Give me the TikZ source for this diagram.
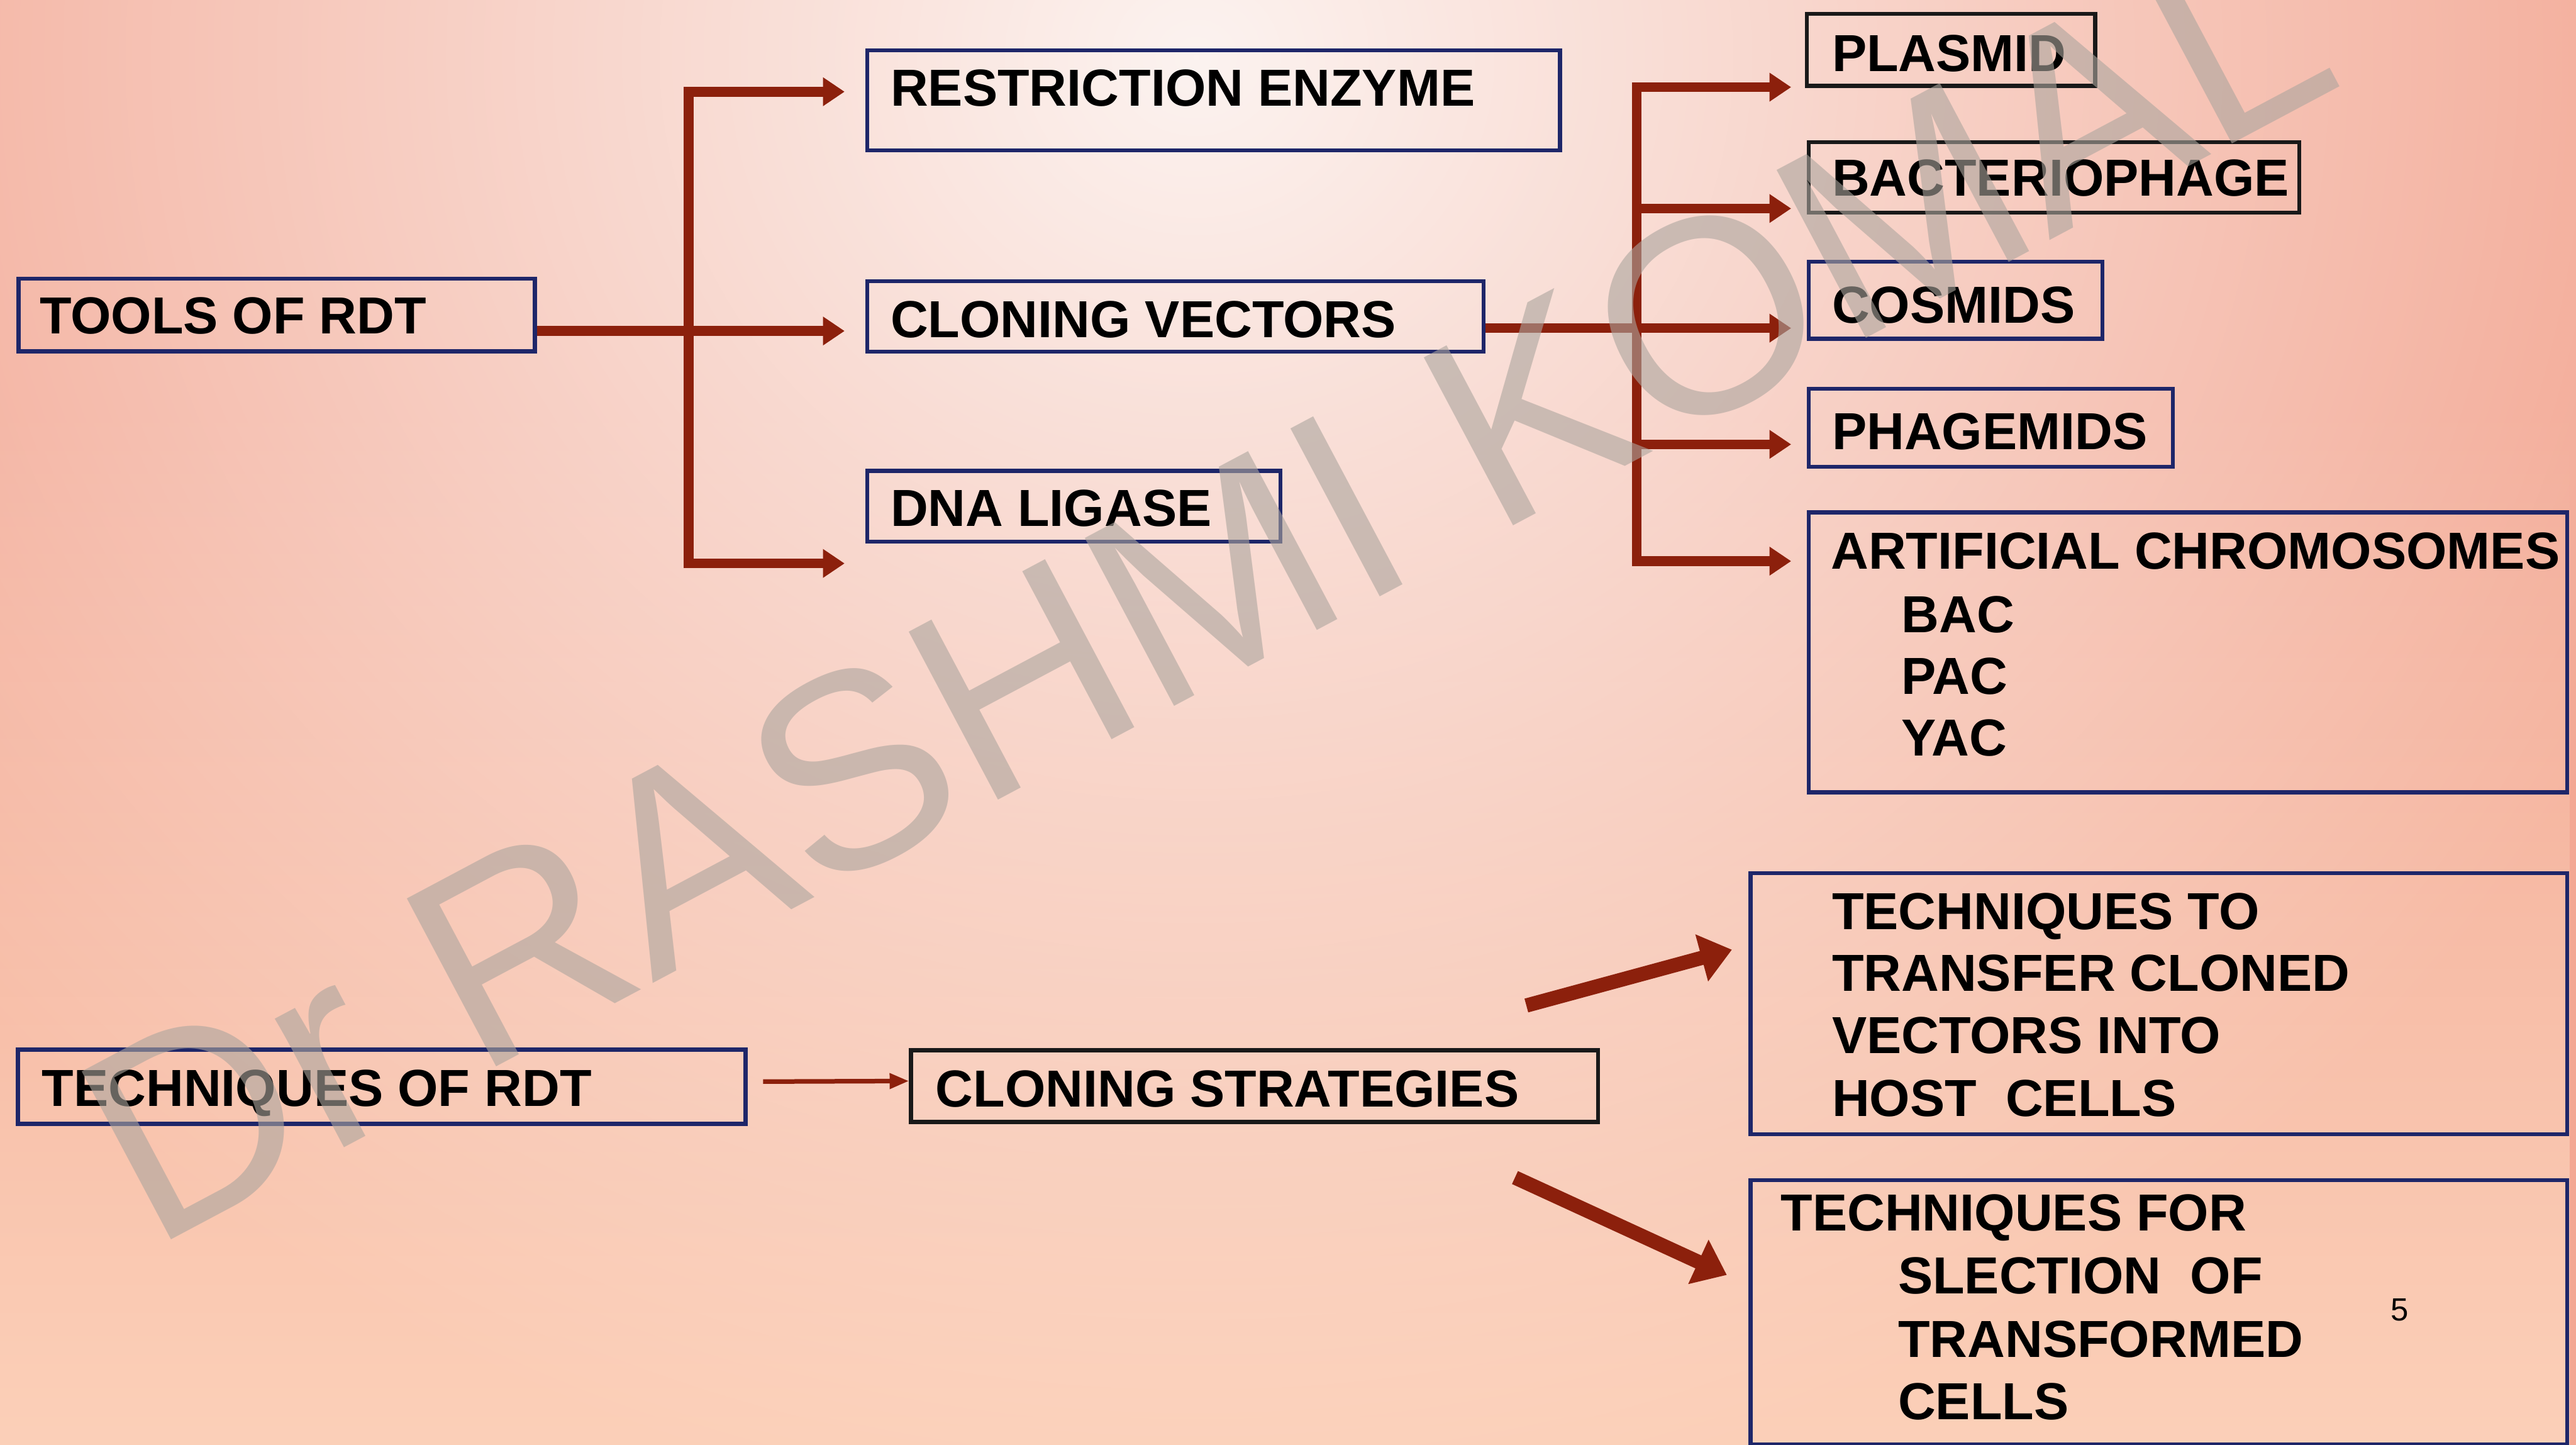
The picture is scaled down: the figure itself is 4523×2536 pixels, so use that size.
\documentclass[tikz,border=0pt]{standalone}
\usepackage{fontspec}
\setmainfont{Liberation Sans}
\usetikzlibrary{arrows.meta,fadings,calc}
\definecolor{salmon}{RGB}{243,168,148}
\definecolor{peach}{RGB}{253,214,190}
\definecolor{hilite}{RGB}{252,243,240}
\definecolor{navy}{RGB}{30,38,105}
\definecolor{arrowred}{RGB}{140,32,12}
\definecolor{wmgray}{RGB}{172,165,158}
\tikzfading[name=fadedown, top color=transparent!100, bottom color=transparent!0]
\tikzfading[name=radfade, inner color=transparent!0, outer color=transparent!100]
\begin{document}
\begin{tikzpicture}[x=0.01cm,y=-0.01cm,
  box/.style={draw=navy, line width=0.07cm, rectangle, inner sep=0pt, anchor=north west},
  blackbox/.style={box, draw=black!90},
  lbl/.style={anchor=base west, inner sep=0pt, font=\bfseries\fontsize{26pt}{31pt}\selectfont, text=black},
  conn/.style={draw=arrowred, line width=0.17cm, arrows={-Triangle[length=0.38cm,width=0.48cm]}},
  bothconn/.style={draw=arrowred, line width=0.17cm, line join=miter, arrows={Triangle[length=0.38cm,width=0.48cm]-Triangle[length=0.38cm,width=0.48cm]}},
  thinconn/.style={draw=arrowred, line width=0.08cm, arrows={-Triangle[length=0.34cm,width=0.26cm]}},
  fatconn/.style={draw=arrowred, line width=0.25cm, arrows={-Triangle[length=0.55cm,width=0.82cm]}},
  wmark/.style={anchor=base west, inner sep=0pt, rotate=28, text=wmgray, text opacity=0.6, font=\fontsize{138pt}{140pt}\selectfont}
]
\useasboundingbox (0,0) rectangle (4523,2536);
\clip (0,0) rectangle (4523,2536);
% background
\fill[salmon] (0,0) rectangle (4523,2536);
\fill[peach, path fading=fadedown] (0,700) rectangle (4523,2800);
\fill[hilite, path fading=radfade] (2100,100) ellipse [x radius=2800, y radius=2600];

% boxes
\node[box, minimum width=9.06cm, minimum height=1.27cm] (tools) at (29,486) {};
\node[box, minimum width=12.16cm, minimum height=1.75cm] (re) at (1519,85) {};
\node[box, minimum width=10.82cm, minimum height=1.24cm] (cv) at (1519,490) {};
\node[box, minimum width=7.25cm, minimum height=1.24cm] (dna) at (1519,823) {};
\node[blackbox, minimum width=5.06cm, minimum height=1.26cm] (plasmid) at (3169,21) {};
\node[blackbox, minimum width=8.61cm, minimum height=1.24cm] (bact) at (3172,246) {};
\node[box, minimum width=5.16cm, minimum height=1.35cm] (cos) at (3172,456) {};
\node[box, minimum width=6.39cm, minimum height=1.37cm] (phag) at (3172,679) {};
\node[box, minimum width=13.31cm, minimum height=4.91cm] (art) at (3172,896) {};
\node[box, minimum width=12.77cm, minimum height=1.30cm] (techrdt) at (28,1839) {};
\node[blackbox, minimum width=12.06cm, minimum height=1.26cm] (cs) at (1596,1840) {};
\node[box, minimum width=14.33cm, minimum height=4.58cm] (tto) at (3070,1529) {};
\node[box, minimum width=14.33cm, minimum height=4.64cm] (tfor) at (3070,2068) {};

% labels
\node[lbl] (tools-t) at (69,586) {TOOLS OF RDT};
\node[lbl] (re-t) at (1563,186) {RESTRICTION ENZYME};
\node[lbl] (cv-t) at (1563,592) {CLONING VECTORS};
\node[lbl] (dna-t) at (1563,924) {DNA LIGASE};
\node[lbl] (plasmid-t) at (3216,125) {PLASMID};
\node[lbl] (bact-t) at (3216,344) {BACTERIOPHAGE};
\node[lbl] (cos-t) at (3216,567) {COSMIDS};
\node[lbl] (phag-t) at (3216,789) {PHAGEMIDS};
\node[lbl] (art-t1) at (3214,999) {ARTIFICIAL CHROMOSOMES};
\node[lbl] (art-t2) at (3338,1110) {BAC};
\node[lbl] (art-t3) at (3338,1219) {PAC};
\node[lbl] (art-t4) at (3338,1327) {YAC};
\node[lbl] (techrdt-t) at (73,1942) {TECHNIQUES OF RDT};
\node[lbl] (cs-t) at (1642,1943) {CLONING STRATEGIES};
\node[lbl] (tto-t1) at (3216,1631) {TECHNIQUES TO};
\node[lbl] (tto-t2) at (3216,1740) {TRANSFER CLONED};
\node[lbl] (tto-t3) at (3216,1849) {VECTORS INTO};
\node[lbl] (tto-t4) at (3216,1959) {HOST\ \ CELLS};
\node[lbl] (tfor-t1) at (3126,2160) {TECHNIQUES FOR};
\node[lbl] (tfor-t2) at (3332,2271) {SLECTION\ \ OF};
\node[lbl] (tfor-t3) at (3332,2382) {TRANSFORMED};
\node[lbl] (tfor-t4) at (3332,2492) {CELLS};
\node[anchor=base west, inner sep=0pt, font=\fontsize{16pt}{18pt}\selectfont] (pagenum) at (4197,2318) {5};

% connectors: tools bracket
\coordinate (ja) at (1209,161);
\coordinate (jb) at (1209,989);
\coordinate (ta) at (1483,161);
\coordinate (tb) at (1483,581);
\coordinate (tc) at (1483,989);
\draw[bothconn] (ta) -- (ja) -- (jb) -- (tc);
\draw[conn] (tools.east |- tb) -- (tb);

% connectors: vectors bracket
\coordinate (ka) at (2874,153);
\coordinate (kb) at (2874,985);
\coordinate (pa) at (3145,153);
\coordinate (pb) at (3145,366);
\coordinate (pc) at (3145,576);
\coordinate (pd) at (3145,780);
\coordinate (pe) at (3145,985);
\draw[bothconn] (pa) -- (ka) -- (kb) -- (pe);
\draw[conn] (kb |- pb) -- (pb);
\draw[conn] (kb |- pd) -- (pd);
\draw[conn] (cv.east |- pc) -- (pc);

% techniques
\draw[thinconn] ([xshift=0.27cm,yshift=0.09cm]techrdt.east) -- ([yshift=0.09cm]cs.west);
\coordinate (ua) at (2680,1765);
\coordinate (ub) at (3041,1667);
\coordinate (da) at (2660,2067);
\coordinate (db) at (3032,2238);
\draw[fatconn] (ua) -- (ub);
\draw[fatconn] (da) -- (db);

% watermark
\node[wmark] (wm) at (265,2195) {Dr RASHMI KOMAL};
\end{tikzpicture}
\end{document}
